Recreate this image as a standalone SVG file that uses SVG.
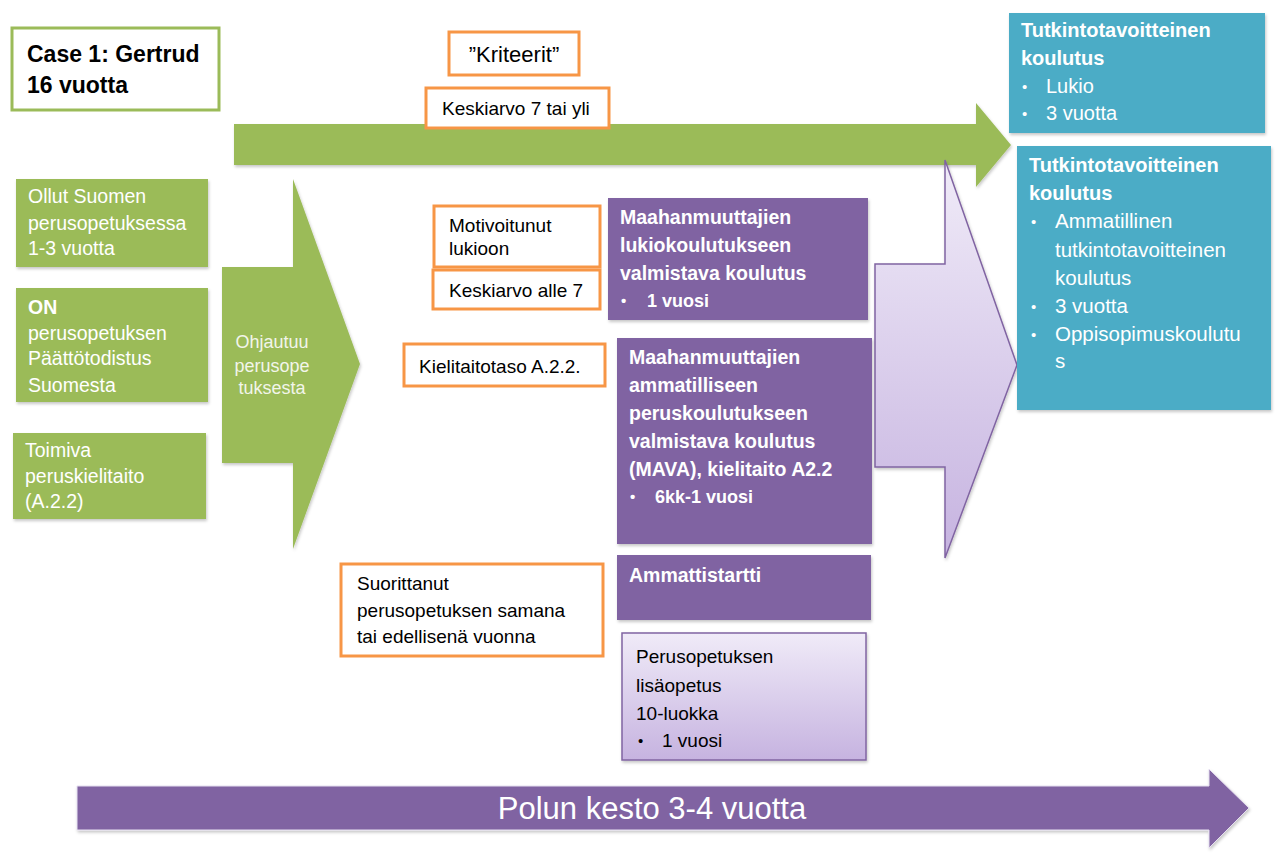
<svg xmlns="http://www.w3.org/2000/svg" width="1283" height="857" viewBox="0 0 1283 857">
<style>
text{font-family:"Liberation Sans",Arial,sans-serif}
.w{fill:#ffffff}
.k{fill:#000000}
.b{font-weight:bold}
.grn{fill:#9BBB59}
.ob{fill:#ffffff;stroke:#F79646;stroke-width:3}
.pur{fill:#8064A2}
.teal{fill:#4BACC6}
.sh{filter:url(#sh)}
</style>
<defs>
<filter id="sh" x="-10%" y="-10%" width="120%" height="120%">
<feDropShadow dx="1" dy="2" stdDeviation="1.5" flood-color="#000" flood-opacity="0.22"/>
</filter>
<linearGradient id="lp" x1="0" y1="0" x2="0" y2="1">
<stop offset="0" stop-color="#F0EBF8"/>
<stop offset="1" stop-color="#C6B3E0"/>
</linearGradient>
</defs>
<rect width="1283" height="857" fill="#ffffff"/>

<g id="connectors">
<polygon id="arrow-green-top" class="grn sh" points="234,124 976,124 976,103 1011,145 976,187 976,165 234,165"/>
<polygon id="arrow-green-chevron" class="grn sh" points="222,267 293,267 293,179 360,364 293,549 293,463 222,463"/>
<polygon id="arrow-lightpurple" fill="url(#lp)" stroke="#8064A2" stroke-width="1.5" class="sh" points="875,264 945,264 945,160 1017,365 945,558 945,467 875,467"/>
<polygon id="arrow-bottom" class="pur sh" stroke="#E6DFF0" stroke-width="1" points="77,786 1209,786 1209,769 1249,808 1209,848 1209,830 77,830"/>
</g>

<g id="case">
<rect x="12" y="28" width="207" height="82" fill="#fff" stroke="#9BBB59" stroke-width="3"/>
<text class="k b" x="27" y="62" font-size="23">Case 1: Gertrud</text>
<text class="k b" x="27" y="93" font-size="23">16 vuotta</text>
</g>

<g id="kriteerit">
<rect class="ob" x="449" y="32" width="130" height="43"/>
<text class="k" x="514" y="62" font-size="22" text-anchor="middle">”Kriteerit”</text>
</g>

<g id="keskiarvo-yli">
<rect class="ob" x="426" y="88" width="183" height="40"/>
<text class="k" x="442" y="115" font-size="19">Keskiarvo 7 tai yli</text>
</g>

<g id="ollut">
<rect class="grn sh" x="16" y="179" width="192" height="88"/>
<text class="w" x="28" y="203" font-size="19.5">Ollut Suomen</text>
<text class="w" x="28" y="230" font-size="19.5">perusopetuksessa</text>
<text class="w" x="28" y="255" font-size="19.5">1-3 vuotta</text>
</g>

<g id="on">
<rect class="grn sh" x="16" y="288" width="192" height="114"/>
<text class="w b" x="28" y="314" font-size="19.5">ON</text>
<text class="w" x="28" y="340" font-size="19.5">perusopetuksen</text>
<text class="w" x="28" y="365" font-size="19.5">Päättötodistus</text>
<text class="w" x="28" y="392" font-size="19.5">Suomesta</text>
</g>

<g id="toimiva">
<rect class="grn sh" x="13" y="433" width="193" height="86"/>
<text class="w" x="25" y="457" font-size="19.5">Toimiva</text>
<text class="w" x="25" y="483" font-size="19.5">peruskielitaito</text>
<text class="w" x="25" y="508" font-size="19.5">(A.2.2)</text>
</g>

<g id="ohjautuu">
<text fill="#F2F5EA" x="272" y="348" font-size="18" text-anchor="middle">Ohjautuu</text>
<text fill="#F2F5EA" x="272" y="372" font-size="18" text-anchor="middle">perusope</text>
<text fill="#F2F5EA" x="272" y="394" font-size="18" text-anchor="middle">tuksesta</text>
</g>

<g id="motivoitunut">
<rect class="ob" x="434" y="206" width="166" height="61"/>
<text class="k" x="449" y="232" font-size="19">Motivoitunut</text>
<text class="k" x="449" y="255" font-size="19">lukioon</text>
</g>

<g id="keskiarvo-alle">
<rect class="ob" x="433" y="270" width="167" height="39"/>
<text class="k" x="449" y="297" font-size="19">Keskiarvo alle 7</text>
</g>

<g id="kielitaitotaso">
<rect class="ob" x="404" y="344" width="201" height="42"/>
<text class="k" x="419" y="373" font-size="19">Kielitaitotaso A.2.2.</text>
</g>

<g id="suorittanut">
<rect class="ob" x="341" y="564" width="262" height="92"/>
<text class="k" x="357" y="590" font-size="19">Suorittanut</text>
<text class="k" x="357" y="617" font-size="19">perusopetuksen samana</text>
<text class="k" x="357" y="643" font-size="19">tai edellisenä vuonna</text>
</g>

<g id="lukio-valmistava">
<rect class="pur sh" x="608" y="198" width="260" height="122"/>
<text class="w b" x="620" y="224" font-size="19.5">Maahanmuuttajien</text>
<text class="w b" x="620" y="252" font-size="19.5">lukiokoulutukseen</text>
<text class="w b" x="620" y="280" font-size="19.5">valmistava koulutus</text>
<text class="w b" x="621" y="306" font-size="15">•</text>
<text class="w b" x="647" y="307" font-size="18">1 vuosi</text>
</g>

<g id="mava">
<rect class="pur sh" x="617" y="338" width="255" height="206"/>
<text class="w b" x="629" y="364" font-size="19.5">Maahanmuuttajien</text>
<text class="w b" x="629" y="392" font-size="19.5">ammatilliseen</text>
<text class="w b" x="629" y="420" font-size="19.5">peruskoulutukseen</text>
<text class="w b" x="629" y="448" font-size="19.5">valmistava koulutus</text>
<text class="w b" x="629" y="476" font-size="19.5">(MAVA), kielitaito A2.2</text>
<text class="w b" x="630" y="502" font-size="15">•</text>
<text class="w b" x="655" y="503" font-size="18">6kk-1 vuosi</text>
</g>

<g id="ammattistartti">
<rect class="pur sh" x="617" y="555" width="254" height="65"/>
<text class="w b" x="629" y="582" font-size="19.5">Ammattistartti</text>
</g>

<g id="lisaopetus">
<rect x="622" y="633" width="244" height="127" fill="url(#lp)" stroke="#8064A2" stroke-width="1.5" class="sh"/>
<text class="k" x="636" y="663" font-size="19">Perusopetuksen</text>
<text class="k" x="636" y="692" font-size="19">lisäopetus</text>
<text class="k" x="636" y="720" font-size="19">10-luokka</text>
<text class="k" x="638" y="746" font-size="15">•</text>
<text class="k" x="662" y="747" font-size="19">1 vuosi</text>
</g>

<g id="lukio">
<rect class="teal sh" x="1009" y="13" width="256" height="120"/>
<text class="w b" x="1021" y="37" font-size="20">Tutkintotavoitteinen</text>
<text class="w b" x="1021" y="65" font-size="20">koulutus</text>
<text class="w" x="1022" y="92" font-size="15">•</text>
<text class="w" x="1046" y="93" font-size="20">Lukio</text>
<text class="w" x="1022" y="119" font-size="15">•</text>
<text class="w" x="1046" y="120" font-size="20">3 vuotta</text>
</g>

<g id="ammatillinen">
<rect class="teal sh" x="1017" y="146" width="254" height="264"/>
<text class="w b" x="1029" y="172" font-size="20">Tutkintotavoitteinen</text>
<text class="w b" x="1029" y="200" font-size="20">koulutus</text>
<text class="w" x="1031" y="227" font-size="15">•</text>
<text class="w" x="1055" y="228" font-size="20.5">Ammatillinen</text>
<text class="w" x="1055" y="257" font-size="20.5">tutkintotavoitteinen</text>
<text class="w" x="1055" y="285" font-size="20.5">koulutus</text>
<text class="w" x="1031" y="312" font-size="15">•</text>
<text class="w" x="1055" y="313" font-size="20.5">3 vuotta</text>
<text class="w" x="1031" y="340" font-size="15">•</text>
<text class="w" x="1055" y="341" font-size="20.5">Oppisopimuskoulutu</text>
<text class="w" x="1055" y="368" font-size="20.5">s</text>
</g>

<g id="kesto">
<text class="w" x="652" y="819" font-size="31" text-anchor="middle">Polun kesto 3-4 vuotta</text>
</g>
</svg>
